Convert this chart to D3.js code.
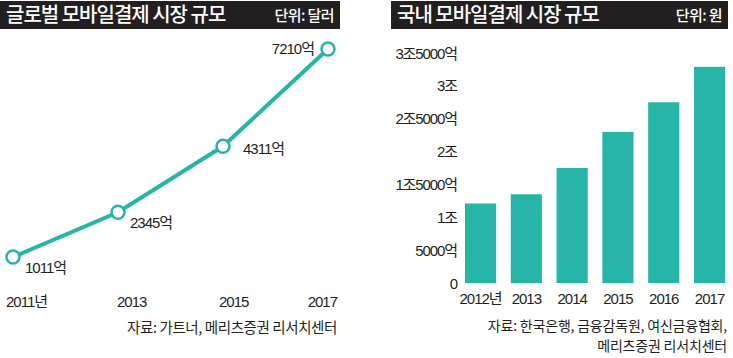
<!DOCTYPE html>
<html><head><meta charset="utf-8">
<script src="https://cdn.jsdelivr.net/npm/d3@7"></script>
<style>
body{margin:0;background:#fff;}
svg{display:block;}
text{font-family:"Liberation Sans","Noto Sans CJK KR",sans-serif;fill:#231f20;}
.ttl{font-family:"Noto Sans CJK KR",sans-serif;font-weight:500;fill:#fff;}
.kr{font-family:"Noto Sans CJK KR",sans-serif;}
</style></head><body>
<svg id="c" width="733" height="358"></svg>
<script>
// Left chart data: global mobile payment market (unit: USD)
const globalYears = [2011, 2013, 2015, 2017];
const globalValues = [1011, 2345, 4311, 7210];
const globalLabels = ["1011억", "2345억", "4311억", "7210억"];
const globalTickLabels = ["2011년", "2013", "2015", "2017"];
// Right chart data: domestic mobile payment market (unit: 억원)
const domesticYears = ["2012", "2013", "2014", "2015", "2016", "2017"];
const domesticTickLabels = ["2012년", "2013", "2014", "2015", "2016", "2017"];
const domesticValues = [12100, 13500, 17500, 23000, 27500, 32900];
const domesticTicks = [0, 5000, 10000, 15000, 20000, 25000, 30000, 35000];
const domesticTickText = ["0", "5000억", "1조", "1조5000억", "2조", "2조5000억", "3조", "3조5000억"];

const teal = "#27b5a8";
const dark = "#231f20";
const svg = d3.select("#c");

// Headers
function header(x, w, title, unit) {
  svg.append("rect").attr("x", x).attr("y", 1).attr("width", w).attr("height", 28).attr("fill", dark);
  svg.append("text").attr("class", "ttl").attr("x", x + 6).attr("y", 22)
    .attr("font-size", 20).attr("letter-spacing", -1).text(title);
  svg.append("text").attr("class", "ttl").attr("x", x + w - 6).attr("y", 20.5)
    .attr("text-anchor", "end").attr("font-size", 15).attr("letter-spacing", -0.6).attr("font-weight", 400).text(unit);
}
header(0, 340, "글로벌 모바일결제 시장 규모", "단위: 달러");
header(391, 337, "국내 모바일결제 시장 규모", "단위: 원");

// ---- Left line chart ----
const xL = d3.scaleLinear().domain([2011, 2017]).range([13, 328]);
const yL = d3.scaleLinear().domain([0, 7210]).range([291, 49]);
const pts = globalYears.map((y, i) => ({year: y, v: globalValues[i], label: globalLabels[i]}));

svg.append("path").datum(pts)
  .attr("d", d3.line().x(d => xL(d.year)).y(d => yL(d.v)))
  .attr("fill", "none").attr("stroke", teal).attr("stroke-width", 4);

svg.selectAll(".pt").data(pts).enter().append("circle")
  .attr("cx", d => xL(d.year)).attr("cy", d => yL(d.v)).attr("r", 6.5)
  .attr("fill", "#fff").attr("stroke", teal).attr("stroke-width", 2.5);

const lblOff = [[12, 16, "start"], [12, 16, "start"], [20, 8, "start"], [-14, 5, "end"]];
svg.selectAll(".pl").data(pts).enter().append("text")
  .attr("x", (d, i) => xL(d.year) + lblOff[i][0])
  .attr("y", (d, i) => yL(d.v) + lblOff[i][1])
  .attr("text-anchor", (d, i) => lblOff[i][2])
  .attr("font-size", 15).attr("letter-spacing", -1).text(d => d.label);

const tickOff = [[-7, "start"], [-1, "start"], [-4, "start"], [9, "end"]];
svg.selectAll(".xl").data(globalYears).enter().append("text")
  .attr("x", (d, i) => xL(d) + tickOff[i][0]).attr("y", 307)
  .attr("text-anchor", (d, i) => tickOff[i][1])
  .attr("font-size", 15).attr("letter-spacing", -1).text((d, i) => globalTickLabels[i]);

svg.append("text").attr("class", "kr").attr("x", 337).attr("y", 333).attr("text-anchor", "end")
  .attr("font-size", 14.5).attr("letter-spacing", -0.4).text("자료: 가트너, 메리츠증권 리서치센터");

// ---- Right bar chart ----
const xR = d3.scaleBand().domain(domesticYears).range([460.4, 729.7]).paddingInner(0.32).paddingOuter(0.1);
const yR = d3.scaleLinear().domain([0, 35000]).range([283, 53]);

svg.selectAll(".bar").data(domesticValues).enter().append("rect")
  .attr("x", (d, i) => xR(domesticYears[i])).attr("width", xR.bandwidth())
  .attr("y", d => yR(d)).attr("height", d => yR(0) - yR(d)).attr("fill", teal);

svg.selectAll(".yt").data(domesticTicks).enter().append("text")
  .attr("x", 457).attr("y", d => yR(d) + 5.5).attr("text-anchor", "end")
  .attr("font-size", 15).attr("letter-spacing", -1.1).text((d, i) => domesticTickText[i]);

svg.selectAll(".xt").data(domesticYears).enter().append("text")
  .attr("x", d => xR(d) + xR.bandwidth() / 2).attr("y", 304).attr("text-anchor", "middle")
  .attr("font-size", 15).attr("letter-spacing", -1).text((d, i) => domesticTickLabels[i]);

svg.append("text").attr("class", "kr").attr("x", 727).attr("y", 330.5).attr("text-anchor", "end")
  .attr("font-size", 14).attr("letter-spacing", -0.2).text("자료: 한국은행, 금융감독원, 여신금융협회,");
svg.append("text").attr("class", "kr").attr("x", 727).attr("y", 350.5).attr("text-anchor", "end")
  .attr("font-size", 14).attr("letter-spacing", -0.2).text("메리츠증권 리서치센터");
</script></body></html>
